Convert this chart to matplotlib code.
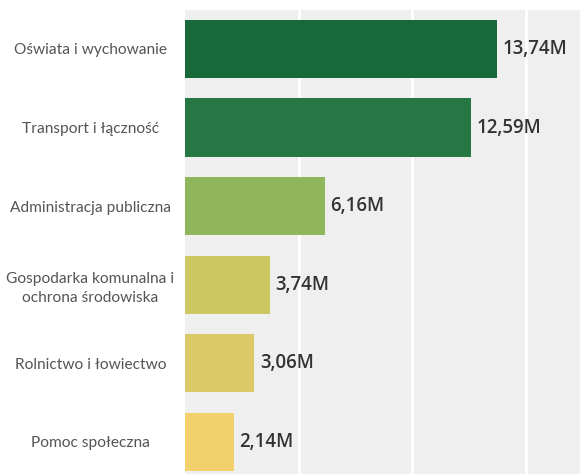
import matplotlib
matplotlib.use("Agg")
import matplotlib.pyplot as plt

categories = [
    "Oświata i wychowanie",
    "Transport i łączność",
    "Administracja publiczna",
    "Gospodarka komunalna i\nochrona środowiska",
    "Rolnictwo i łowiectwo",
    "Pomoc społeczna",
]
values = [13.74, 12.59, 6.16, 3.74, 3.06, 2.14]
value_labels = ["13,74M", "12,59M", "6,16M", "3,74M", "3,06M", "2,14M"]
colors = ["#17693a", "#267743", "#8fb65a", "#cec863", "#dbc866", "#f2d06b"]

plt.rcParams["font.family"] = ["Lato", "DejaVu Sans"]

fig = plt.figure(figsize=(5.8, 4.74), dpi=100)
ax = fig.add_axes([185 / 580, 0.0, 1 - 185 / 580, 1 - 10 / 474])
ax.set_facecolor("#efefef")

y = list(range(len(categories)))
ax.barh(y, values, height=0.74, color=colors, zorder=3)

ax.set_xlim(0, 17.4)
ax.set_ylim(5.41, -0.496)

for gx in (5, 10, 15):
    ax.axvline(gx, color="white", lw=2, zorder=1)

for yi, v, lab in zip(y, values, value_labels):
    ax.text(v + 0.25, yi, lab, va="center", ha="left", fontsize=13.4,
            color="#333333", fontweight="semibold", zorder=4,
            family=["Open Sans", "DejaVu Sans"])

ax.set_yticks(y)
ax.set_yticklabels(categories, fontsize=11.2, color="#555555", ha="center",
                   linespacing=1.45)
ax.tick_params(axis="y", length=0, pad=68)
ax.set_xticks([])
for s in ax.spines.values():
    s.set_visible(False)

fig.savefig("out.png", dpi=100, facecolor="white")
